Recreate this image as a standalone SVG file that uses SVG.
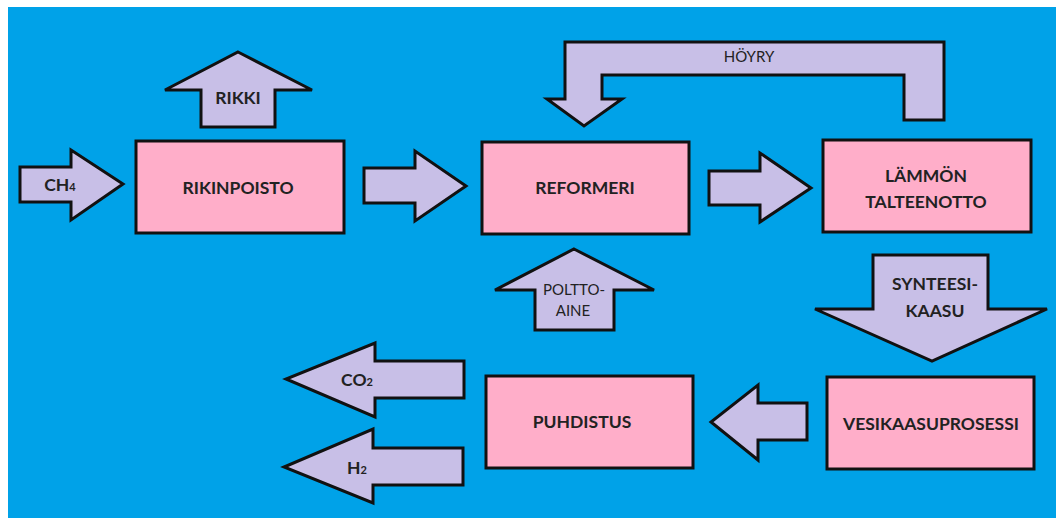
<svg xmlns="http://www.w3.org/2000/svg" width="1056" height="518" viewBox="0 0 1056 518">
<style>
.box{fill:#FFAEC9;stroke:#111;stroke-width:3}
.arr{fill:#C8BFE7;stroke:#111;stroke-width:3;stroke-linejoin:miter}
.t{font-family:Lato,"Open Sans",sans-serif;font-weight:bold;font-size:17.5px;fill:#222;text-anchor:middle}
.n{font-family:Lato,"Open Sans",sans-serif;font-size:15px;fill:#222;text-anchor:middle}
.s{font-size:11px}
</style>
<rect x="0" y="0" width="1056" height="518" fill="#fff"/>
<rect x="8" y="7" width="1048" height="511" fill="#00A2E8"/>
<g id="connectors">
<g id="ch4-arrow"><polygon class="arr" points="20,167 71,167 71,150 123,184 71,220 71,202 20,202"/><text class="t" x="60" y="191">CH<tspan class="s">4</tspan></text></g>
<g id="rikki-arrow"><polygon class="arr" points="238,52 312,90 275,90 275,127 201,127 201,90 165,90"/><text class="t" x="238" y="104">RIKKI</text></g>
<g id="arrow-1"><polygon class="arr" points="364,168 415,168 415,151 466,186 415,221 415,203 364,203"/></g>
<g id="hoyry-arrow"><polygon class="arr" points="565,42 944,42 944,120 904,120 904,75 602,75 602,99 622,99 584,126 547,99 565,99"/><text class="n" x="749" y="62">HÖYRY</text></g>
<g id="arrow-2"><polygon class="arr" points="709,171 760,171 760,153 811,188 760,222 760,205 709,205"/></g>
<g id="polttoaine-arrow"><polygon class="arr" points="574,249 654,290 614,290 614,330 535,330 535,290 495,290"/><text class="n" x="574" y="295">POLTTO-</text><text class="n" x="573" y="316">AINE</text></g>
<g id="synteesikaasu-arrow"><polygon class="arr" points="873,255 988,255 988,309 1047,309 932,361 815,309 873,309"/><text class="t" x="935" y="290">SYNTEESI-</text><text class="t" x="935" y="317">KAASU</text></g>
<g id="arrow-3"><polygon class="arr" points="807,403 807,440 758,440 758,460 711,422 758,385 758,403"/></g>
<g id="co2-arrow"><polygon class="arr" points="464,361 464,398 375,398 375,417 286,379 375,343 375,361"/><text class="t" x="357" y="386">CO<tspan class="s">2</tspan></text></g>
<g id="h2-arrow"><polygon class="arr" points="463,448 463,485 373,485 373,503 284,467 373,429 373,448"/><text class="t" x="357" y="474">H<tspan class="s">2</tspan></text></g>
</g>
<g id="rikinpoisto"><rect class="box" x="136" y="141" width="208" height="92"/><text class="t" x="238" y="194">RIKINPOISTO</text></g>
<g id="reformeri"><rect class="box" x="482" y="142" width="207" height="92"/><text class="t" x="585" y="194">REFORMERI</text></g>
<g id="lammon-talteenotto"><rect class="box" x="823" y="140" width="208" height="92"/><text class="t" x="926" y="182">LÄMMÖN</text><text class="t" x="926" y="208">TALTEENOTTO</text></g>
<g id="vesikaasuprosessi"><rect class="box" x="827" y="377" width="207" height="92"/><text class="t" x="931" y="430">VESIKAASUPROSESSI</text></g>
<g id="puhdistus"><rect class="box" x="486" y="376" width="207" height="92"/><text class="t" x="582" y="428">PUHDISTUS</text></g>
</svg>
